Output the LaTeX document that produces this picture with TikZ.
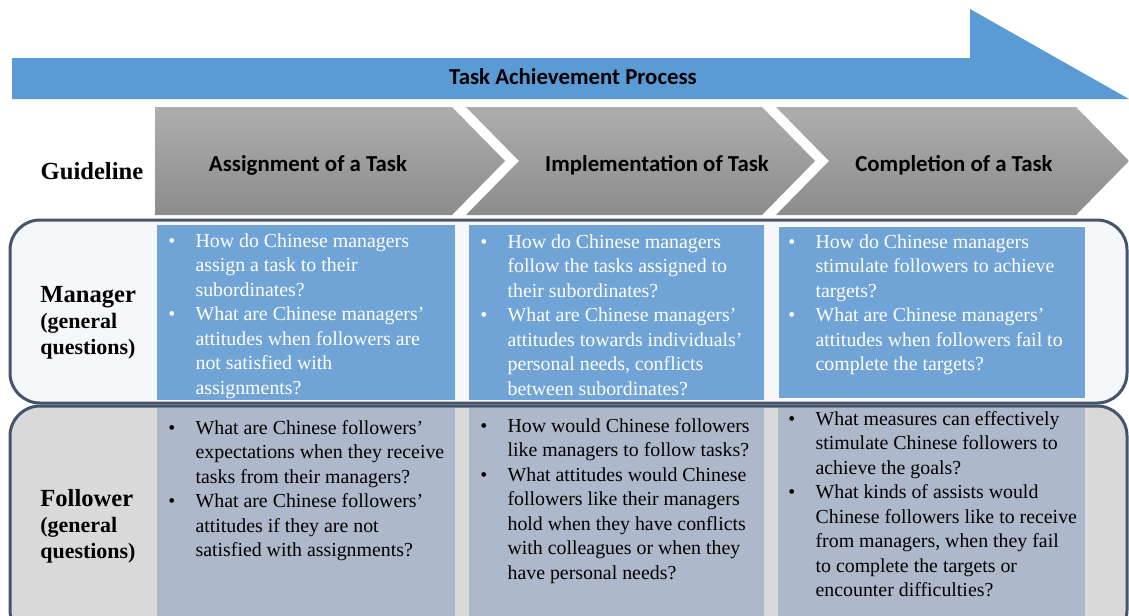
\documentclass[tikz,border=0pt]{standalone}
\usepackage{fontspec}
\setmainfont{Liberation Serif}
\newfontfamily\headfont{Carlito}
\usetikzlibrary{positioning}

\definecolor{procblue}{RGB}{91,155,213}
\definecolor{mgrblue}{RGB}{112,164,214}
\definecolor{folcell}{RGB}{173,185,202}
\definecolor{frame}{RGB}{68,84,106}
\definecolor{mgrback}{RGB}{246,247,250}
\definecolor{folback}{RGB}{217,217,217}

\newcommand{\qitems}[1]{\begin{tabular}{@{}p{15.5pt}@{}l@{}}#1\end{tabular}}

\begin{document}
\begin{tikzpicture}[x=0.2mm,y=-0.2mm,
  hd/.style={font=\headfont\bfseries\fontsize{13}{15}\selectfont,inner sep=0pt},
  chev/.style={top color=black!32,bottom color=black!45,draw=none},
  frm/.style={draw=frame,line width=0.6mm,rounded corners=6mm},
  side/.style={font=\bfseries\fontsize{12.5}{14.7}\selectfont,align=left,inner sep=0pt,anchor=west},
  mq/.style={text=white,font=\fontsize{11.3}{13.9}\selectfont,inner sep=0pt,anchor=north west},
  fq/.style={mq,text=black}]
  \useasboundingbox (0,0) rectangle (1129,615);
  \clip (0,0) rectangle (1129,615);
  \fill[procblue] (12,58) -- (970,58) -- (970,9) -- (1129,99) -- (12,99) -- cycle;
  \node[hd] (proc) at (573,77) {Task Achievement Process};
  \path[frm,fill=mgrback] (10,220) rectangle (1127,403);
  \path[frm,fill=folback] (10,406) rectangle (1127,640);
  \path[chev] (155,107) -- (452,107) -- (505,161) -- (452,215) -- (155,215) -- cycle;
  \path[chev] (466,107) -- (762,107) -- (815,161) -- (762,215) -- (466,215) -- (519,161) -- cycle;
  \path[chev] (776,107) -- (1076,107) -- (1129,161) -- (1076,215) -- (776,215) -- (829,161) -- cycle;
  \node[hd] (assign) at (308,165) {Assignment of a Task};
  \node[hd] (implem) at (657,165) {Implementation of Task};
  \node[hd] (complet) at (954,165) {Completion of a Task};
  \fill[mgrblue] (157,225) rectangle (455,400);
  \fill[mgrblue] (469,225) rectangle (764,400);
  \filldraw[mgrblue,draw=white] (778,226) rectangle (1085,398);
  \fill[folcell] (157,408) rectangle (455,640);
  \fill[folcell] (469,408) rectangle (764,640);
  \fill[folcell] (778,408) rectangle (1085,640);
  \node[font=\bfseries\fontsize{14}{16}\selectfont,inner sep=0pt] (guide) at (92,171) {Guideline};
  \node[side] (mgr) at (40,323) {{\fontsize{14}{14.7}\selectfont Manager}\\(general\\questions)};
  \node[side] (fol) at (40,526) {{\fontsize{14}{14.7}\selectfont Follower}\\(general\\questions)};
  \node[mq] (m1) at (168,230) {\qitems{%
    \textbullet & How do Chinese managers\\ & assign a task to their\\ & subordinates?\\
    \textbullet & What are Chinese managers’\\ & attitudes when followers are\\ & not satisfied with\\ & assignments?}};
  \node[mq] (m2) at (480,231) {\qitems{%
    \textbullet & How do Chinese managers\\ & follow the tasks assigned to\\ & their subordinates?\\
    \textbullet & What are Chinese managers’\\ & attitudes towards individuals’\\ & personal needs, conflicts\\ & between subordinates?}};
  \node[mq] (m3) at (788,231) {\qitems{%
    \textbullet & How do Chinese managers\\ & stimulate followers to achieve\\ & targets?\\
    \textbullet & What are Chinese managers’\\ & attitudes when followers fail to\\ & complete the targets?}};
  \node[fq] (f1) at (168,417) {\qitems{%
    \textbullet & What are Chinese followers’\\ & expectations when they receive\\ & tasks from their managers?\\
    \textbullet & What are Chinese followers’\\ & attitudes if they are not\\ & satisfied with assignments?}};
  \node[fq] (f2) at (480,415) {\qitems{%
    \textbullet & How would Chinese followers\\ & like managers to follow tasks?\\
    \textbullet & What attitudes would Chinese\\ & followers like their managers\\ & hold when they have conflicts\\ & with colleagues or when they\\ & have personal needs?}};
  \node[fq] (f3) at (788,408) {\qitems{%
    \textbullet & What measures can effectively\\ & stimulate Chinese followers to\\ & achieve the goals?\\
    \textbullet & What kinds of assists would\\ & Chinese followers like to receive\\ & from managers, when they fail\\ & to complete the targets or\\ & encounter difficulties?}};
\end{tikzpicture}
\end{document}
